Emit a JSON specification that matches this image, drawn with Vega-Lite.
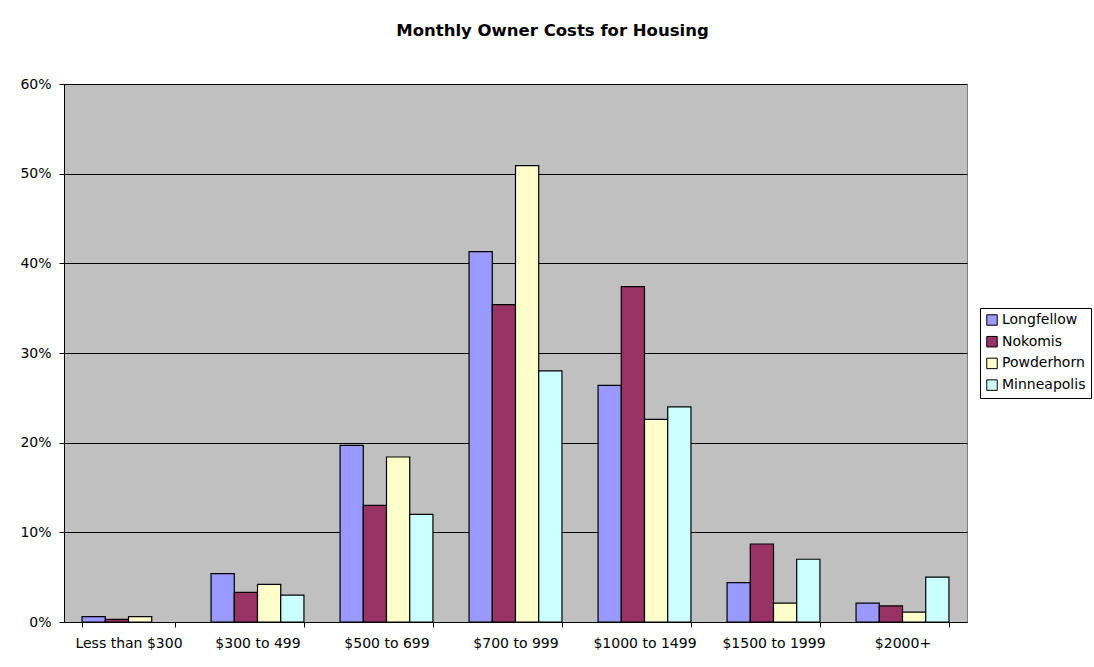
{
  "$schema": "https://vega.github.io/schema/vega-lite/v6.json",
  "width": 903,
  "height": 538,
  "autosize": {"type": "none"},
  "padding": {"left": 64, "top": 84, "right": 127, "bottom": 45},
  "background": "white",
  "title": {
    "text": "Monthly Owner Costs for Housing",
    "font": "DejaVu Sans",
    "fontSize": 16.5,
    "fontWeight": "bold",
    "color": "black",
    "anchor": "middle",
    "dx": 37,
    "baseline": "alphabetic",
    "offset": 25
  },
  "data": {
    "values": [
      {"cost": "Less than $300", "area": "Longfellow", "pct": 0.006},
      {"cost": "Less than $300", "area": "Nokomis", "pct": 0.003},
      {"cost": "Less than $300", "area": "Powderhorn", "pct": 0.006},
      {"cost": "$300 to 499", "area": "Longfellow", "pct": 0.054},
      {"cost": "$300 to 499", "area": "Nokomis", "pct": 0.033},
      {"cost": "$300 to 499", "area": "Powderhorn", "pct": 0.042},
      {"cost": "$300 to 499", "area": "Minneapolis", "pct": 0.030},
      {"cost": "$500 to 699", "area": "Longfellow", "pct": 0.197},
      {"cost": "$500 to 699", "area": "Nokomis", "pct": 0.130},
      {"cost": "$500 to 699", "area": "Powderhorn", "pct": 0.184},
      {"cost": "$500 to 699", "area": "Minneapolis", "pct": 0.120},
      {"cost": "$700 to 999", "area": "Longfellow", "pct": 0.413},
      {"cost": "$700 to 999", "area": "Nokomis", "pct": 0.354},
      {"cost": "$700 to 999", "area": "Powderhorn", "pct": 0.509},
      {"cost": "$700 to 999", "area": "Minneapolis", "pct": 0.280},
      {"cost": "$1000 to 1499", "area": "Longfellow", "pct": 0.264},
      {"cost": "$1000 to 1499", "area": "Nokomis", "pct": 0.374},
      {"cost": "$1000 to 1499", "area": "Powderhorn", "pct": 0.226},
      {"cost": "$1000 to 1499", "area": "Minneapolis", "pct": 0.240},
      {"cost": "$1500 to 1999", "area": "Longfellow", "pct": 0.044},
      {"cost": "$1500 to 1999", "area": "Nokomis", "pct": 0.087},
      {"cost": "$1500 to 1999", "area": "Powderhorn", "pct": 0.021},
      {"cost": "$1500 to 1999", "area": "Minneapolis", "pct": 0.070},
      {"cost": "$2000+", "area": "Longfellow", "pct": 0.021},
      {"cost": "$2000+", "area": "Nokomis", "pct": 0.018},
      {"cost": "$2000+", "area": "Powderhorn", "pct": 0.011},
      {"cost": "$2000+", "area": "Minneapolis", "pct": 0.050}
    ]
  },
  "mark": {"type": "bar", "stroke": "black", "strokeWidth": 1.2},
  "encoding": {
    "x": {
      "field": "cost",
      "type": "nominal",
      "sort": ["Less than $300", "$300 to 499", "$500 to 699", "$700 to 999", "$1000 to 1499", "$1500 to 1999", "$2000+"],
      "scale": {"paddingInner": 0.28, "paddingOuter": 0.14},
      "axis": {
        "title": null,
        "labelAngle": 0,
        "tickBand": "extent",
        "tickSize": 5,
        "labelPadding": 9,
        "labelFont": "DejaVu Sans",
        "labelFontSize": 14,
        "labelColor": "black",
        "domainColor": "black",
        "tickColor": "black",
        "grid": false
      }
    },
    "xOffset": {
      "field": "area",
      "sort": ["Longfellow", "Nokomis", "Powderhorn", "Minneapolis"]
    },
    "y": {
      "field": "pct",
      "type": "quantitative",
      "scale": {"domain": [0, 0.6]},
      "axis": {
        "title": null,
        "values": [0, 0.1, 0.2, 0.3, 0.4, 0.5, 0.6],
        "format": ".0%",
        "grid": true,
        "gridColor": "black",
        "gridOpacity": 1,
        "gridWidth": 1,
        "tickSize": 5,
        "labelPadding": 8,
        "labelFont": "DejaVu Sans",
        "labelFontSize": 14,
        "labelColor": "black",
        "domainColor": "black",
        "tickColor": "black"
      }
    },
    "color": {
      "field": "area",
      "type": "nominal",
      "scale": {
        "domain": ["Longfellow", "Nokomis", "Powderhorn", "Minneapolis"],
        "range": ["#9999FF", "#993366", "#FFFFCC", "#CCFFFF"]
      },
      "legend": {
        "title": null,
        "orient": "none",
        "legendX": 916,
        "legendY": 224,
        "padding": 5,
        "strokeColor": "black",
        "fillColor": "white",
        "symbolType": "square",
        "symbolSize": 110,
        "symbolStrokeColor": "black",
        "symbolStrokeWidth": 1,
        "symbolOpacity": 1,
        "labelFont": "DejaVu Sans",
        "labelFontSize": 14,
        "labelColor": "black",
        "labelOffset": 3,
        "rowPadding": 5.7
      }
    }
  },
  "config": {
    "view": {"fill": "#C0C0C0", "stroke": "#808080", "strokeWidth": 1}
  }
}
